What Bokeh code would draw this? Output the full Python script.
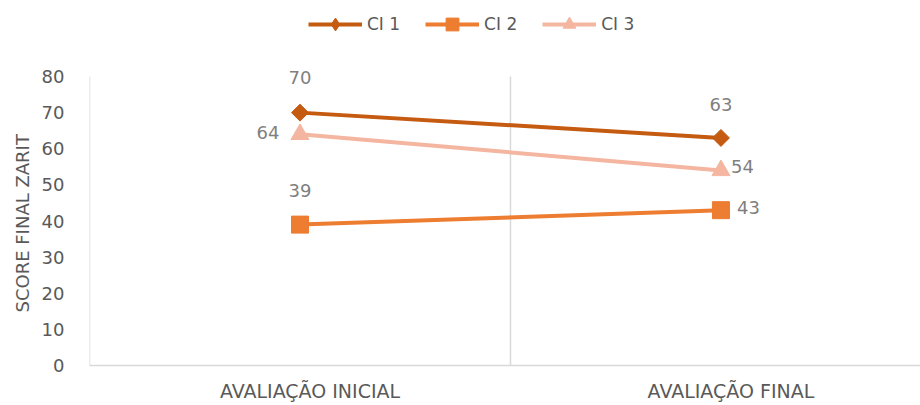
import math
from bokeh.plotting import figure
from bokeh.models import Legend, LegendItem, FixedTicker, ColumnDataSource, Title
from bokeh.core.properties import value
from bokeh.embed import file_html
from bokeh.resources import INLINE

categories = ["AVALIAÇÃO INICIAL", "AVALIAÇÃO FINAL"]
series_names = ["CI 1", "CI 2", "CI 3"]
ci1 = [70, 63]
ci2 = [39, 43]
ci3 = [64, 54]
y_ticks = [0, 10, 20, 30, 40, 50, 60, 70, 80]
y_max = 80
y_title = "SCORE FINAL ZARIT"

FONT = "DejaVu Sans"
colors = ["#C55A11", "#ED7D31", "#F4B6A0"]
xpos = [i + 0.5 for i in range(len(categories))]

FRAME_H = 365  # frame from canvas top to x-axis line
PLOT_H = 289   # pixels spanned by 0..80
CAT_W = 421    # pixels per category
y_end = y_max * FRAME_H / PLOT_H
label_shift = 10 / CAT_W  # category labels sit slightly right of the category centre
tick_pos = [x + label_shift for x in xpos]

p = figure(width=920, height=405, output_backend="svg", toolbar_location=None,
           x_range=(0, 1.974), y_range=(0, y_end),
           min_border_left=89, min_border_right=0, min_border_top=0, min_border_bottom=40)
p.outline_line_color = None
p.background_fill_color = "white"
p.border_fill_color = "white"
p.xgrid.visible = False
p.ygrid.visible = False

p.xaxis.ticker = FixedTicker(ticks=tick_pos)
p.xaxis.major_label_overrides = {x: c for x, c in zip(tick_pos, categories)}
p.xaxis.major_tick_line_color = None
p.xaxis.minor_tick_line_color = None
p.xaxis.axis_line_color = "#D9D9D9"
p.xaxis.axis_line_width = 1.5
p.xaxis.major_label_text_font = FONT
p.xaxis.major_label_text_font_size = "19px"
p.xaxis.major_label_text_color = "#595959"
p.xaxis.major_label_standoff = 8

p.yaxis.ticker = FixedTicker(ticks=y_ticks)
p.yaxis.major_tick_line_color = None
p.yaxis.minor_tick_line_color = None
p.yaxis.axis_line_color = None
p.yaxis.major_label_text_font = FONT
p.yaxis.major_label_text_font_size = "18px"
p.yaxis.major_label_text_color = "#595959"
p.yaxis.major_label_standoff = 19

# y-axis title, centred on the 0..80 span rather than on the whole frame
p.add_layout(Title(text=y_title, align="left", offset=53, text_font=FONT,
                   text_font_size="18px", text_font_style="normal",
                   text_color="#595959", standoff=12), "left")

# category boundary lines (left edge and between categories), spanning 0..80
bounds = [0, 1]
p.segment(x0=bounds, y0=[0] * len(bounds), x1=bounds, y1=[y_max] * len(bounds),
          line_color="#D9D9D9", line_width=1.5)

markers = [dict(marker="square", angle=math.pi / 4, size=12, lmarker="diamond"),
           dict(marker="square", angle=0, size=17, lmarker="square"),
           dict(marker="triangle", angle=0, size=18, lmarker="triangle")]
nan = float("nan")
items = []
for name, vals, col, mk in zip(series_names, [ci1, ci2, ci3], colors, markers):
    src = ColumnDataSource(dict(x=xpos, y=vals))
    p.line("x", "y", source=src, line_color=col, line_width=4)
    p.scatter("x", "y", source=src, marker=mk["marker"], angle=mk["angle"],
              size=mk["size"], fill_color=col, line_color=col)
    # legend-only renderers (no visible data) so the legend can use plain markers
    leg = ColumnDataSource(dict(x=[nan], y=[nan]))
    l1 = p.line("x", "y", source=leg, line_color=col, line_width=4)
    l2 = p.scatter("x", "y", source=leg, marker=mk["lmarker"],
                   fill_color=col, line_color=col)
    items.append(LegendItem(label=name, renderers=[l1, l2], index=0))

# data labels
label_offsets = {
    "CI 1": [(0, -35, "center"), (0, -33, "center")],
    "CI 2": [(0, -34, "center"), (16, -3, "left")],
    "CI 3": [(-32, -2, "center"), (10, -4, "left")],
}
for name, vals in zip(series_names, [ci1, ci2, ci3]):
    for (dx, dy, al), x, v in zip(label_offsets[name], xpos, vals):
        p.text(x=[x], y=[v], text=[str(v)], x_offset=dx, y_offset=dy,
               text_align=al, text_baseline="middle", text_color="#7F7F7F",
               text_font=value(FONT), text_font_size="18px")

legend = Legend(items=items, orientation="horizontal", location=(219, 325),
                glyph_width=54, glyph_height=32, label_text_font=FONT,
                label_text_font_size="17px", label_text_color="#595959",
                spacing=25, padding=0, margin=0, border_line_color=None,
                background_fill_alpha=0, label_standoff=5)
p.add_layout(legend, "center")

open("out.html", "w").write(file_html(p, INLINE))
